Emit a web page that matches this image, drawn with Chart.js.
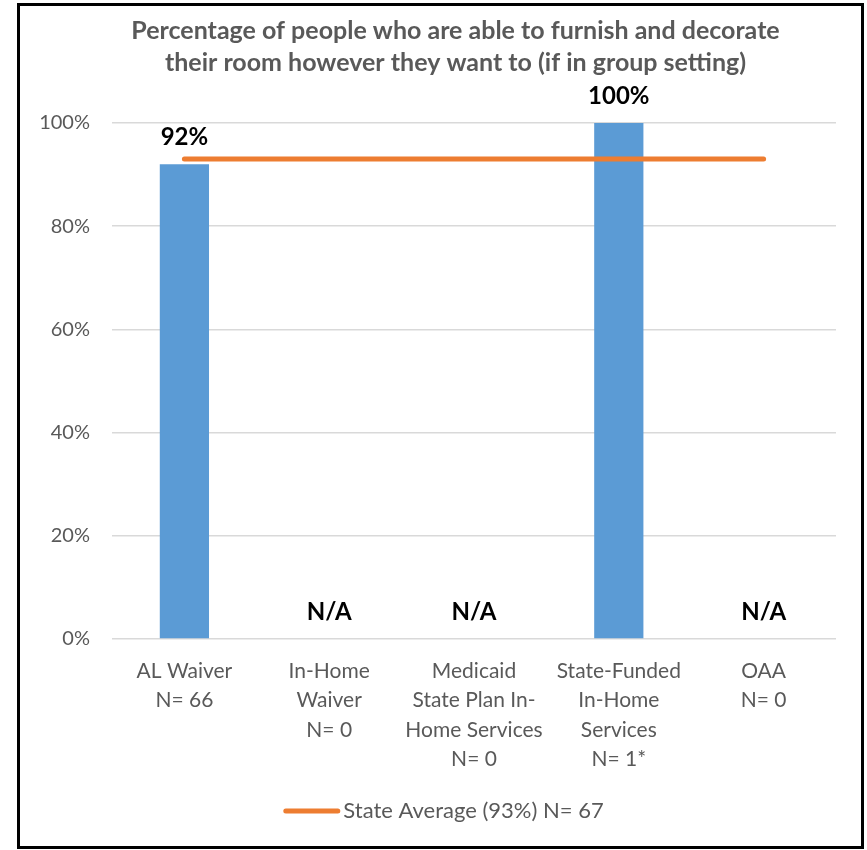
<!DOCTYPE html>
<html>
<head>
<meta charset="utf-8">
<script src="https://cdn.jsdelivr.net/npm/chart.js@4/dist/chart.umd.min.js"></script>
<style>
  body { margin: 0; background: #fff; }
  #frame {
    position: absolute; left: 17px; top: 3px;
    width: 847px; height: 846px; box-sizing: border-box;
    border: 3px solid #000; background: #fff;
  }
  #wrap { position: relative; width: 841px; height: 840px; }
</style>
</head>
<body>
<div id="frame"><div id="wrap"><canvas id="furnishChart"></canvas></div></div>
<script>
// chart data
const categories = [
  ['AL Waiver', 'N= 66'],
  ['In-Home', 'Waiver', 'N= 0'],
  ['Medicaid', 'State Plan In-', 'Home Services', 'N= 0'],
  ['State-Funded', 'In-Home', 'Services', 'N= 1*'],
  ['OAA', 'N= 0']
];
const programValues = [92, null, null, 100, null];
const valueLabels = ['92%', 'N/A', 'N/A', '100%', 'N/A'];
const stateAverage = [93, 93, 93, 93, 93];
const stateAverageLabel = 'State Average (93%) N= 67';
const yTicks = [0, 20, 40, 60, 80, 100];
const titleLines = ['Percentage of people who are able to furnish and decorate',
                    'their room however they want to (if in group setting)'];

const FONT = 'Lato, "Noto Sans", sans-serif';
const GREY = '#595959';
const ORANGE = '#ED7D31';

// value labels above bars, plus title and legend drawn Excel-style
const decorPlugin = {
  id: 'decor',
  afterDatasetsDraw(chart) {
    const meta = chart.getDatasetMeta(0);
    const y = chart.scales.y;
    const ctx = chart.ctx;
    ctx.save();
    ctx.font = 'bold 24px ' + FONT;
    ctx.fillStyle = '#000';
    ctx.textAlign = 'center';
    ctx.textBaseline = 'middle';
    meta.data.forEach((bar, i) => {
      const v = programValues[i] == null ? 0 : programValues[i];
      ctx.fillText(valueLabels[i], bar.x, y.getPixelForValue(v) - 27);
    });
    ctx.restore();
  },
  afterDraw(chart) {
    const ctx = chart.ctx;
    const cx = chart.width / 2;
    ctx.save();
    // title
    ctx.font = 'bold 25px ' + FONT;
    ctx.fillStyle = GREY;
    ctx.textAlign = 'center';
    ctx.textBaseline = 'middle';
    titleLines.forEach((t, i) => ctx.fillText(t, cx + 15, 25 + i * 32));
    // legend
    ctx.font = '22px ' + FONT;
    const lineW = 57, gap = 3;
    const total = lineW + gap + ctx.measureText(stateAverageLabel).width;
    const x0 = cx + 3 - total / 2;
    const ly = chart.height - 35;
    ctx.strokeStyle = ORANGE;
    ctx.lineWidth = 5;
    ctx.lineCap = 'round';
    ctx.beginPath();
    ctx.moveTo(x0 + 2.5, ly);
    ctx.lineTo(x0 + lineW - 2.5, ly);
    ctx.stroke();
    ctx.textAlign = 'left';
    ctx.fillText(stateAverageLabel, x0 + lineW + gap, ly);
    ctx.restore();
  }
};

const ctx = document.getElementById('furnishChart').getContext('2d');

new Chart(ctx, {
  type: 'bar',
  data: {
    labels: categories,
    datasets: [{
      label: 'Program',
      data: programValues,
      backgroundColor: '#5B9BD5',
      categoryPercentage: 1,
      barPercentage: 0.34,
      order: 1
    }, {
      type: 'line',
      label: stateAverageLabel,
      data: stateAverage,
      borderColor: ORANGE,
      backgroundColor: ORANGE,
      borderWidth: 5,
      borderCapStyle: 'round',
      pointRadius: 0,
      order: 0
    }]
  },
  options: {
    responsive: true,
    maintainAspectRatio: false,
    animation: false,
    layout: { padding: { left: 0, right: 25, top: 117, bottom: 56 } },
    scales: {
      y: {
        min: 0,
        max: 100,
        afterFit: (s) => { s.width = 92; },
        afterBuildTicks: (s) => { s.ticks = yTicks.map(v => ({ value: v })); },
        border: { display: false },
        grid: { color: '#D9D9D9', lineWidth: 1.5, drawTicks: false },
        ticks: {
          padding: 22,
          color: GREY,
          font: { family: FONT, size: 20 },
          callback: (v) => v + '%'
        }
      },
      x: {
        afterFit: (s) => { s.height = 151; },
        border: { display: false },
        grid: { display: false, drawTicks: false },
        ticks: {
          padding: 17,
          autoSkip: false,
          maxRotation: 0,
          color: GREY,
          font: { family: FONT, size: 21, lineHeight: '29.5px' }
        }
      }
    },
    plugins: {
      title: { display: false },
      legend: { display: false },
      tooltip: { enabled: false }
    }
  },
  plugins: [decorPlugin]
});
</script>
</body>
</html>
